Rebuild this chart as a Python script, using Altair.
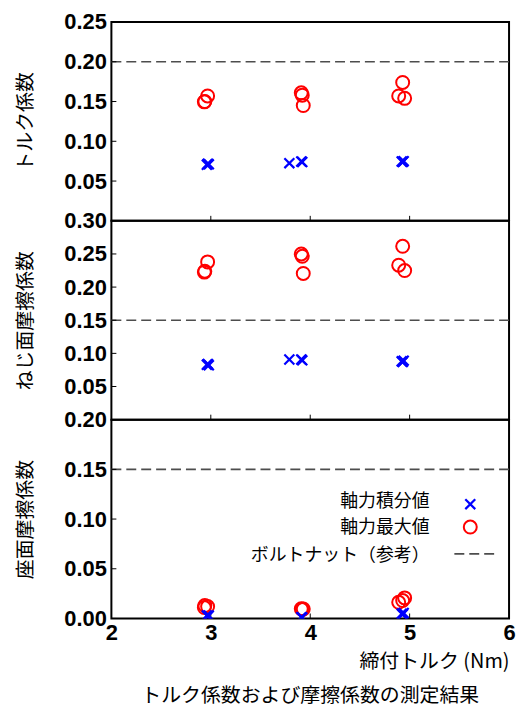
import altair as alt
import pandas as pd

# ---------------- data ----------------
torque_integral = [2.96, 2.97, 2.98, 3.79, 3.91, 3.92, 4.92, 4.93, 4.94]
torque_peak = [2.935, 2.968, 2.94, 3.91, 3.92, 3.93, 4.93, 4.89, 4.95]

torque_coef_integral = [0.0705, 0.0717, 0.0710, 0.0725, 0.0746, 0.0740, 0.0746, 0.0740, 0.0750]
torque_coef_peak = [0.1496, 0.157, 0.150, 0.161, 0.158, 0.145, 0.174, 0.157, 0.154]

thread_coef_integral = [0.0828, 0.0840, 0.0820, 0.0908, 0.0908, 0.0895, 0.0880, 0.0870, 0.0890]
thread_coef_peak = [0.2226, 0.238, 0.224, 0.250, 0.2465, 0.2206, 0.2615, 0.233, 0.225]

bearing_coef_integral = [0.0030, 0.0020, 0.0030, -0.0060, 0.0013, 0.0010, 0.0047, 0.0040, 0.0055]
bearing_coef_peak = [0.011, 0.012, 0.013, 0.0097, 0.0090, 0.0095, 0.018, 0.0163, 0.0207]

ref_bolt_nut = [0.20, 0.15, 0.15]
panel_titles = ["トルク係数", "ねじ面摩擦係数", "座面摩擦係数"]
y_domains = [[0, 0.25], [0, 0.30], [0, 0.20]]
y_tick_values = [
    [0.05, 0.10, 0.15, 0.20, 0.25],
    [0.05, 0.10, 0.15, 0.20, 0.25, 0.30],
    [0.00, 0.05, 0.10, 0.15, 0.20],
]
x_domain = [2, 6]
x_tick_values = [2, 3, 4, 5, 6]
x_inner_ticks = [3, 4, 5]
x_title = "締付トルク (Nm)"
chart_title = "トルク係数および摩擦係数の測定結果"
legend_labels = ["軸力積分値", "軸力最大値", "ボルトナット（参考）"]

# ---------------- style ----------------
W, H = 400, 200
NUM = "Liberation Sans"
JP = "Noto Sans CJK JP"
XPATH = "M-1,-1L1,1M-1,1L1,-1"
BLUE = "#0000ff"
RED = "#ff0000"
DASH = "#4d4d4d"


def panel(i, integral, peak, bottom=False):
    df_i = pd.DataFrame({"t": torque_integral, "v": integral})
    df_p = pd.DataFrame({"t": torque_peak, "v": peak})
    xs = alt.Scale(domain=x_domain, nice=False, zero=False)
    ys = alt.Scale(domain=y_domains[i], nice=False)
    if bottom:
        xaxis = alt.Axis(values=x_tick_values, format="d", title=x_title,
                         ticks=False, domain=False, grid=False,
                         labelFont=NUM, labelFontWeight="bold", labelFontSize=22,
                         labelPadding=4, labelFlush=False, labelColor="black",
                         labelOverlap=False,
                         titleFont=JP, titleFontSize=20, titleFontWeight="normal",
                         titleAnchor="end", titlePadding=8, titleColor="black")
    else:
        xaxis = None
    yaxis = alt.Axis(values=y_tick_values[i], format=".2f", title=panel_titles[i],
                     ticks=False, domain=False, grid=False,
                     labelFont=NUM, labelFontWeight="bold", labelFontSize=22,
                     labelPadding=5, labelFlush=False, labelColor="black",
                     labelOverlap=False, labelBound=False,
                     titleFont=JP, titleFontSize=20, titleFontWeight="normal",
                     titlePadding=29, titleColor="black")

    X = alt.X("t:Q", scale=xs, axis=xaxis)
    Y = alt.Y("v:Q", scale=ys, axis=yaxis)

    ref = alt.Chart(pd.DataFrame({"v": [ref_bolt_nut[i]]})).mark_rule(
        color=DASH, strokeDash=[10, 5], strokeWidth=1.6
    ).encode(y=Y)

    yt = alt.Chart(pd.DataFrame({"v": y_tick_values[i]})).mark_rule(
        color="black", strokeWidth=1
    ).encode(y=Y, x=alt.value(0), x2=alt.value(5))

    xt = alt.Chart(pd.DataFrame({"t": x_inner_ticks})).mark_rule(
        color="black", strokeWidth=1
    ).encode(x=X, y=alt.value(H), y2=alt.value(H - 5))

    pk = alt.Chart(df_p).mark_point(
        shape="circle", filled=False, color=RED, strokeWidth=2, size=170,
        clip=True, opacity=1
    ).encode(x=X, y=Y)

    it = alt.Chart(df_i).mark_point(
        shape=XPATH, filled=False, color=BLUE, strokeWidth=2.2, size=100,
        clip=True, opacity=1
    ).encode(x=X, y=Y)

    layers = [ref, yt, xt, pk, it]

    if bottom:
        lx_text = 320
        ly = [83, 109, 137]
        for lab, yy in zip(legend_labels, ly):
            layers.append(
                alt.Chart(pd.DataFrame({"s": [lab]})).mark_text(
                    align="right", baseline="middle", font=JP, fontSize=18,
                    color="black"
                ).encode(text="s:N", x=alt.value(lx_text), y=alt.value(yy))
            )
        layers.append(
            alt.Chart(pd.DataFrame({"s": [legend_labels[0]]})).mark_point(
                shape=XPATH, filled=False, color=BLUE, strokeWidth=2.2, size=100,
                opacity=1
            ).encode(x=alt.value(361), y=alt.value(85))
        )
        layers.append(
            alt.Chart(pd.DataFrame({"s": [legend_labels[1]]})).mark_point(
                shape="circle", filled=False, color=RED, strokeWidth=2, size=170,
                opacity=1
            ).encode(x=alt.value(361), y=alt.value(108))
        )
        layers.append(
            alt.Chart(pd.DataFrame({"s": [legend_labels[2]]})).mark_rule(
                color=DASH, strokeDash=[10, 5], strokeWidth=1.6
            ).encode(x=alt.value(345), x2=alt.value(385), y=alt.value(135))
        )

    ch = alt.layer(*layers).properties(width=W, height=H)
    if bottom:
        ch = ch.properties(title=alt.TitleParams(
            chart_title, orient="bottom", anchor="middle", frame="group",
            font=JP, fontSize=20, fontWeight="normal", color="black", offset=15))
    return ch


p1 = panel(0, torque_coef_integral, torque_coef_peak)
p2 = panel(1, thread_coef_integral, thread_coef_peak)
p3 = panel(2, bearing_coef_integral, bearing_coef_peak, bottom=True)

chart = alt.vconcat(p1, p2, p3, spacing=0, bounds="flush").properties(
    padding={"left": 6, "top": 0, "right": 0, "bottom": 2}
).configure_view(stroke="black", strokeWidth=2)

chart.save("out.html", embed_options={"renderer": "svg", "actions": False})
